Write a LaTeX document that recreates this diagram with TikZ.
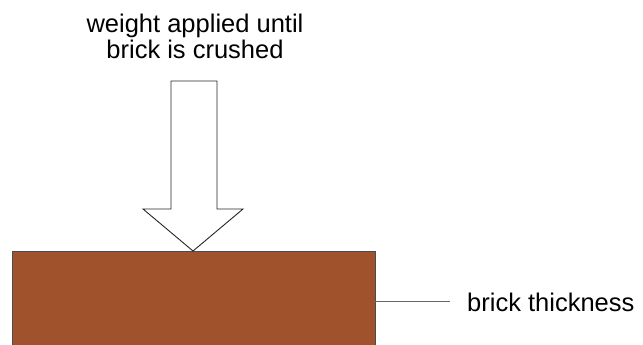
\documentclass[tikz,border=0pt]{standalone}
\usepackage{fontspec}
\setmainfont{Liberation Sans}
\definecolor{brick}{RGB}{160,82,45}
\begin{document}
\begin{tikzpicture}[x=1pt,y=-1pt,
  lbl/.style={font=\fontsize{25.5}{26}\selectfont, inner sep=0pt, text=black},
  arrowshape/.style={draw=black!85, fill=white, line width=0.9pt, line join=miter},
  brickbox/.style={draw=black!70, fill=brick, line width=0.9pt},
  leader/.style={draw=black!60, line width=1pt}]
\useasboundingbox (0,0) rectangle (643,345);
\begin{scope}
\clip (0,0) rectangle (643,345);
\path[brickbox] (12,251) rectangle (375,360);
\end{scope}
\coordinate (brickright) at (375,301);
\coordinate (tip) at (193,251);
\draw[arrowshape] (171,81) -- (217,81) -- (217,209) -- (243,209) -- (tip) -- (143,209) -- (171,209) -- cycle;
\node[lbl, align=center, anchor=base] (title) at (195,59) {weight applied until\\brick is crushed};
\node[lbl, anchor=base west] (thick) at (467,311) {brick thickness};
\coordinate (leadend) at (450,301);
\draw[leader] (brickright) -- (leadend);
\end{tikzpicture}
\end{document}
